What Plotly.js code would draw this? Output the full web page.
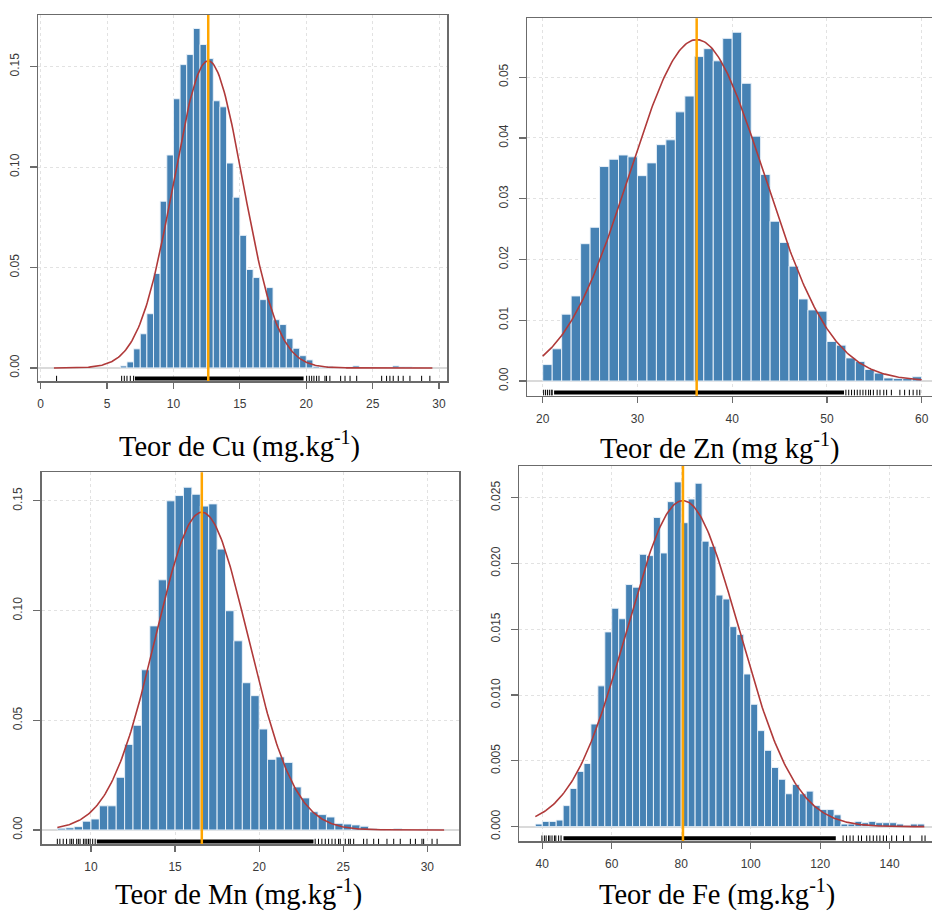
<!DOCTYPE html>
<html>
<head>
<meta charset="utf-8">
<script src="https://cdn.plot.ly/plotly-3.0.1.min.js"></script>
<style>html,body{margin:0;padding:0;background:#fff;}#chart{width:932px;height:913px;}</style>
</head>
<body>
<div id="chart"></div>
<script>
// ---------------- DATA ----------------
// Cu histogram (density), bins of 0.5 starting at 6.0
const cuBinStart = 6.0;
const cuBinWidth = 0.5;
const cuDensity = [0.001,0.003,0.0095,0.017,0.027,0.047,0.083,0.106,0.134,0.151,0.156,0.169,0.161,0.154,0.133,0.130,0.102,0.085,0.066,0.049,0.045,0.034,0.040,0.024,0.0216,0.0146,0.0098,0.0061,0.004,0.0008,0.0004,0.0008,0,0,0.0004,0.001,0,0,0,0,0,0.001,0.0005,0.0005];
const cuMean = 12.62, cuSd = 2.61, cuMin = 1.0, cuMax = 29.5;
const cuRugDense = [7.1, 19.8];
const cuRugSparse = [1.2,6.1,6.3,6.5,6.75,7.0,20.03,20.23,20.41,20.58,20.78,20.96,21.41,21.53,21.78,22.59,22.92,23.3,23.8,25.68,26.05,26.3,26.55,26.93,27.3,27.81,28.69,29.31];
const cuXTicks = [0,5,10,15,20,25,30];
const cuYTicks = [0,0.05,0.10,0.15];

// Zn histogram, bins of 1 starting at 20
const znBinStart = 20;
const znBinWidth = 1;
const znDensity = [0.0027,0.0053,0.011,0.014,0.0226,0.0253,0.0353,0.0365,0.0372,0.0369,0.0338,0.0359,0.0389,0.0397,0.0443,0.0469,0.0534,0.0547,0.0527,0.0564,0.0574,0.0490,0.0403,0.0340,0.0263,0.0228,0.0189,0.0135,0.0117,0.0115,0.0065,0.0059,0.0038,0.0032,0.0019,0.0013,0.0005,0.0004,0.0004,0.0007];
const znMean = 36.25, znSd = 7.1, znMin = 20, znMax = 60;
const znRugDense = [21.2, 51.8];
const znRugSparse = [20.1,20.3,20.5,20.7,20.9,21.0,52.0,52.3,52.6,52.9,53.2,53.5,53.8,54.1,54.4,54.6,54.9,55.3,55.6,56.0,56.3,56.8,57.7,58.2,58.7,59.1,59.5,59.8];
const znXTicks = [20,30,40,50,60];
const znYTicks = [0,0.01,0.02,0.03,0.04,0.05];

// Mn histogram, bins of 0.5 starting at 8.0
const mnBinStart = 8.0;
const mnBinWidth = 0.5;
const mnDensity = [0.0008,0.001,0.0015,0.004,0.005,0.011,0.011,0.024,0.039,0.0477,0.073,0.093,0.114,0.150,0.1524,0.1562,0.153,0.1476,0.1486,0.128,0.0999,0.0862,0.0671,0.0612,0.046,0.0322,0.0333,0.0308,0.0196,0.0146,0.0083,0.007,0.0059,0.003,0.0027,0.0023,0.0017,0.0005,0.0003,0,0.0005,0,0,0.0003,0.0003,0.0003];
const mnMean = 16.59, mnSd = 2.755, mnMin = 8.0, mnMax = 31.0;
const mnRugDense = [10.35, 23.23];
const mnRugSparse = [8.0,8.15,8.35,8.55,8.75,8.85,8.95,9.15,9.25,9.35,9.55,9.65,9.75,9.85,9.95,10.1,10.25,23.33,23.53,23.73,23.93,24.13,24.33,24.52,24.72,24.82,25.12,25.32,25.42,25.62,26.21,26.41,26.81,27.1,27.6,28.0,28.39,28.99,29.29,29.68,29.78,30.28,30.58];
const mnXTicks = [10,15,20,25,30];
const mnYTicks = [0,0.05,0.10,0.15];

// Fe histogram, bins of 2 starting at 38
const feBinStart = 38;
const feBinWidth = 2;
const feDensity = [0.0002,0.0004,0.0004,0.0005,0.0016,0.0029,0.0042,0.0048,0.0078,0.0107,0.0148,0.0166,0.0158,0.0184,0.0182,0.0207,0.0206,0.0235,0.0208,0.0247,0.0262,0.0231,0.0249,0.0261,0.0217,0.0213,0.0176,0.0173,0.0152,0.0146,0.0116,0.0093,0.0073,0.0058,0.0045,0.0036,0.0025,0.0032,0.0025,0.0027,0.0016,0.0013,0.0013,0.0009,0.0002,0.0002,0.0004,0.0003,0.0004,0.0003,0.0003,0.0003,0.0002,0.0001,0.0002,0.0002];
const feMean = 80.5, feSd = 16.1, feMin = 38, feMax = 150;
const feRugDense = [46.1, 124.5];
const feRugSparse = [39.9,40.6,41.1,41.8,42.2,42.8,43.5,43.9,44.7,45.4,126.6,127.6,128.6,129.5,131.0,131.9,133.4,134.3,135.3,136.3,137.2,138.2,139.1,140.6,142.0,144.0,145.9,149.3,150.2];
const feXTicks = [40,60,80,100,120,140];
const feYTicks = [0,0.005,0.010,0.015,0.020,0.025];

const captions = [
  'Teor de Cu (mg.kg<sup>-1</sup>)',
  'Teor de Zn (mg kg<sup>-1</sup>)',
  'Teor de Mn (mg.kg<sup>-1</sup>)',
  'Teor de Fe (mg.kg<sup>-1</sup>)'
];

// ---------------- BUILD ----------------
const BAR = '#4682b4', CURVE = '#b03a3a', MEANC = '#ffa500';
function centers(start, w, n){ const a=[]; for(let i=0;i<n;i++) a.push(start + w*(i+0.5)); return a; }
function normalCurve(mu, sd, lo, hi){
  const xs=[], ys=[]; const n=300;
  for(let i=0;i<=n;i++){ const x=lo+(hi-lo)*i/n; xs.push(x); ys.push(Math.exp(-0.5*((x-mu)/sd)**2)/(sd*Math.sqrt(2*Math.PI))); }
  return {xs, ys};
}

const panels = [
  {s:'', binStart:cuBinStart, w:cuBinWidth, d:cuDensity, mu:cuMean, sd:cuSd, lo:cuMin, hi:cuMax, dense:cuRugDense, sparse:cuRugSparse, rugY:-0.0053, xt:cuXTicks, yt:cuYTicks, yfmt:'.2f',
   xr:[-0.2,30.6], yr:[-0.0065,0.1757], xd:[38/932,447/932], yd:[1-381/913,1-15/913], mirrorY:true},
  {s:'2', binStart:znBinStart, w:znBinWidth, d:znDensity, mu:znMean, sd:znSd, lo:znMin, hi:znMax, dense:znRugDense, sparse:znRugSparse, rugY:-0.0019, xt:znXTicks, yt:znYTicks, yfmt:'.2f',
   xr:[18.34,61.09], yr:[-0.00242,0.0597], xd:[527/932,1], yd:[1-395.7/913,1-18.3/913], mirrorY:false},
  {s:'3', binStart:mnBinStart, w:mnBinWidth, d:mnDensity, mu:mnMean, sd:mnSd, lo:mnMin, hi:mnMax, dense:mnRugDense, sparse:mnRugSparse, rugY:-0.0053, xt:mnXTicks, yt:mnYTicks, yfmt:'.2f',
   xr:[7.07,31.9], yr:[-0.0064,0.163], xd:[41.7/932,459.3/932], yd:[1-844/913,1-472.3/913], mirrorY:true},
  {s:'4', binStart:feBinStart, w:feBinWidth, d:feDensity, mu:feMean, sd:feSd, lo:feMin, hi:feMax, dense:feRugDense, sparse:feRugSparse, rugY:-0.00088, xt:feXTicks, yt:feYTicks, yfmt:'.3f',
   xr:[33.38,152.2], yr:[-0.00109,0.02741], xd:[519.3/932,1], yd:[1-841/913,1-466/913], mirrorY:false}
];

const traces = [];
const layout = {
  width:932, height:913, margin:{l:0,r:0,t:0,b:0},
  paper_bgcolor:'#ffffff', plot_bgcolor:'#ffffff', showlegend:false,
  bargap:0, shapes:[], annotations:[]
};
const tickFont = {family:'Liberation Sans, Arial, sans-serif', size:12, color:'#3a3a3a'};

panels.forEach((p, k) => {
  const xa = 'x'+p.s, ya = 'y'+p.s;
  traces.push({type:'bar', x:centers(p.binStart,p.w,p.d.length), y:p.d, width:p.w, xaxis:xa, yaxis:ya,
    marker:{color:BAR, line:{color:'rgba(235,242,250,0.95)', width:1}}, hoverinfo:'skip'});
  const c = normalCurve(p.mu, p.sd, p.lo, p.hi);
  traces.push({type:'scatter', mode:'lines', x:c.xs, y:c.ys, xaxis:xa, yaxis:ya,
    line:{color:CURVE, width:1.6}, hoverinfo:'skip'});
  traces.push({type:'scatter', mode:'lines', x:p.dense, y:[p.rugY,p.rugY], xaxis:xa, yaxis:ya,
    line:{color:'#000000', width:4}, hoverinfo:'skip'});
  traces.push({type:'scatter', mode:'markers', x:p.sparse, y:p.sparse.map(()=>p.rugY), xaxis:xa, yaxis:ya,
    marker:{symbol:'line-ns-open', size:4, color:'#000', line:{color:'#000', width:1}}, hoverinfo:'skip', cliponaxis:false});
  layout.shapes.push({type:'line', xref:xa, yref:ya+' domain', x0:p.mu, x1:p.mu, y0:0, y1:1,
    line:{color:MEANC, width:2.5}, layer:'above'});
  layout['xaxis'+p.s] = {domain:p.xd, range:p.xr, anchor:ya, tickvals:p.xt, ticks:'outside', ticklen:6, tickwidth:1.2,
    tickcolor:'#6b6b6b', showline:true, mirror:true, linecolor:'#6b6b6b', linewidth:1.5, showgrid:true, gridcolor:'#e2e2e2',
    griddash:'dot', gridwidth:1, zeroline:false, tickfont:tickFont, ticklabelstandoff:5, fixedrange:true};
  layout['yaxis'+p.s] = {domain:p.yd, range:p.yr, anchor:xa, tickvals:p.yt, tickformat:p.yfmt, ticks:'outside', ticklen:7, tickwidth:1.2,
    tickcolor:'#6b6b6b', showline:true, mirror:p.mirrorY, linecolor:'#6b6b6b', linewidth:1.5, showgrid:true, gridcolor:'#e2e2e2',
    griddash:'dot', gridwidth:1, zeroline:true, zerolinecolor:'#dadada', zerolinewidth:2, tickfont:tickFont, tickangle:-90,
    ticklabelstandoff:6, fixedrange:true};
});

const capPos = [[239/932, 1-444/913],[719/932, 1-446/913],[238/932, 1-892/913],[717/932, 1-892/913]];
captions.forEach((t,i)=>{
  layout.annotations.push({text:t, xref:'paper', yref:'paper', x:capPos[i][0], y:capPos[i][1], xanchor:'center', yanchor:'middle',
    showarrow:false, font:{family:'Liberation Serif, Times New Roman, serif', size:28.5, color:'#000'}});
});

Plotly.newPlot('chart', traces, layout, {staticPlot:true, displayModeBar:false});
</script>
</body>
</html>
